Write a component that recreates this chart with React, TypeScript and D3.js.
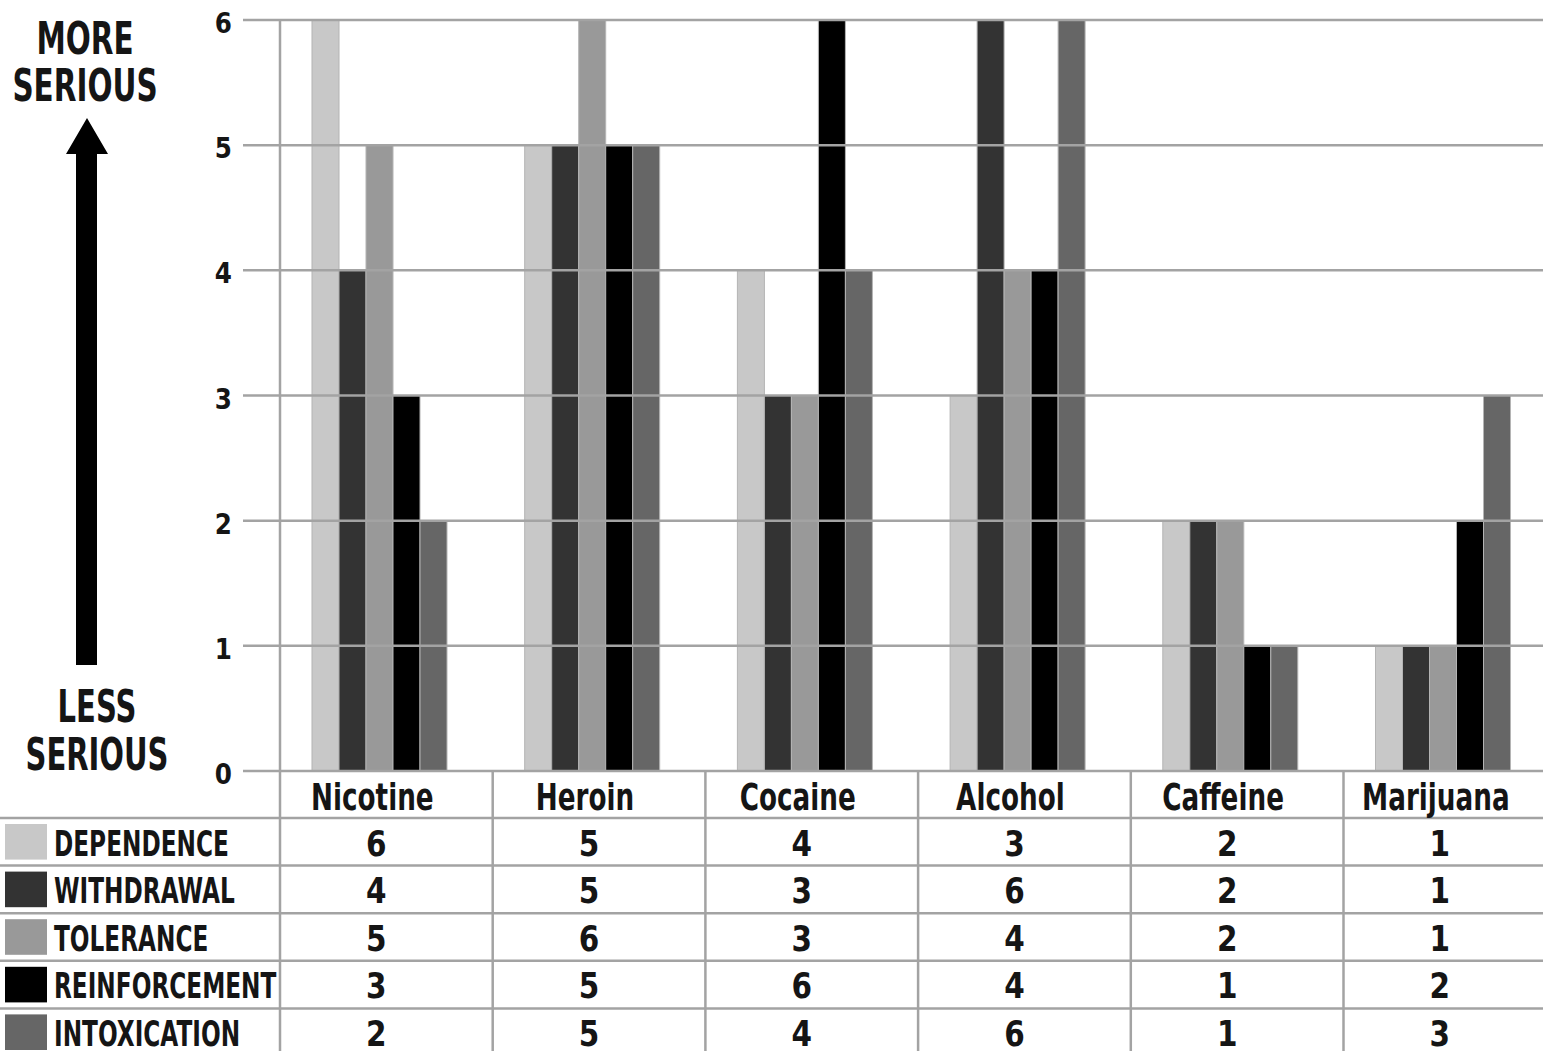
import React from "react";
import * as d3 from "d3";

const drugs = ["Nicotine", "Heroin", "Cocaine", "Alcohol", "Caffeine", "Marijuana"];
const seriesNames = ["DEPENDENCE", "WITHDRAWAL", "TOLERANCE", "REINFORCEMENT", "INTOXICATION"];
const seriesColors = ["#c8c8c8", "#333333", "#999999", "#000000", "#666666"];
const dependence = [6, 5, 4, 3, 2, 1];
const withdrawal = [4, 5, 3, 6, 2, 1];
const tolerance = [5, 6, 3, 4, 2, 1];
const reinforcement = [3, 5, 6, 4, 1, 2];
const intoxication = [2, 5, 4, 6, 1, 3];
const yTicks = [0, 1, 2, 3, 4, 5, 6];

const seriesValues = [dependence, withdrawal, tolerance, reinforcement, intoxication];

const FONT = "'DejaVu Sans', 'Open Sans', sans-serif";

function T(props: {
  x: number;
  y: number;
  sx?: number;
  size: number;
  anchor?: "start" | "middle" | "end";
  children: React.ReactNode;
}) {
  const { x, y, sx = 1, size, anchor = "start", children } = props;
  return (
    <text
      transform={`translate(${x},${y}) scale(${sx},1)`}
      textAnchor={anchor}
      fontSize={size}
      fontWeight="bold"
      fill="#151515"
    >
      {children}
    </text>
  );
}

export default function App() {
  const W = 1543;
  const H = 1051;
  const plotLeft = 280;
  const bandW = 212.7;
  const x = d3
    .scaleBand<string>()
    .domain(drugs)
    .range([plotLeft, plotLeft + bandW * drugs.length])
    .paddingInner(0)
    .paddingOuter(0);
  const y = d3.scaleLinear().domain([0, 6]).range([771, 20]);
  const inner = d3
    .scaleBand<string>()
    .domain(seriesNames)
    .range([32, 32 + 27 * 5])
    .padding(0);

  const headerTop = 771;
  const headerBottom = 818;
  const rowH = 47.6;
  const gridColor = "#a3a3a3";

  return (
    <svg
      width={W}
      height={H}
      style={{ position: "absolute", left: 0, top: 0, background: "#fff" }}
      fontFamily={FONT}
    >
      <rect x={0} y={0} width={W} height={H} fill="#fff" />
      {/* bars */}
      {drugs.map((d, i) => (
        <g key={d} transform={`translate(${x(d)},0)`}>
          {seriesNames.map((s, j) => {
            const v = seriesValues[j][i];
            return (
              <rect
                key={s}
                x={inner(s)}
                y={y(v)}
                width={inner.bandwidth()}
                height={y(0) - y(v)}
                fill={seriesColors[j]}
                stroke="#b4b4b4"
                strokeWidth={1}
              />
            );
          })}
        </g>
      ))}
      {/* gridlines over bars */}
      {yTicks.map((t) => (
        <g key={t}>
          <line x1={243} x2={W} y1={y(t)} y2={y(t)} stroke={gridColor} strokeWidth={2.5} />
          <T x={232} y={y(t) + 13} size={29} sx={0.85} anchor="end">
            {t}
          </T>
        </g>
      ))}
      {/* vertical frame line */}
      <line x1={plotLeft} x2={plotLeft} y1={y(6)} y2={H} stroke={gridColor} strokeWidth={2.5} />
      {/* table column lines */}
      {drugs.slice(1).map((d) => (
        <line
          key={d}
          x1={x(d)}
          x2={x(d)}
          y1={headerTop}
          y2={H}
          stroke={gridColor}
          strokeWidth={2.5}
        />
      ))}
      {/* table row lines */}
      {seriesNames.map((s, j) => (
        <line
          key={s}
          x1={0}
          x2={W}
          y1={headerBottom + j * rowH}
          y2={headerBottom + j * rowH}
          stroke={gridColor}
          strokeWidth={2.5}
        />
      ))}
      {/* header */}
      {drugs.map((d) => (
        <T key={d} x={(x(d) as number) + bandW / 2 - 14} y={headerBottom - 8} size={37} sx={0.71} anchor="middle">
          {d}
        </T>
      ))}
      {/* rows */}
      {seriesNames.map((s, j) => {
        const top = headerBottom + j * rowH;
        return (
          <g key={s}>
            <rect x={5} y={top + 6} width={42} height={rowH - 12} fill={seriesColors[j]} />
            <T x={54} y={top + rowH - 10} size={36} sx={0.645}>
              {s}
            </T>
            {drugs.map((d, i) => (
              <T
                key={d}
                x={(x(d) as number) + bandW / 2 - 10}
                y={top + rowH - 10}
                size={36}
                sx={0.82}
                anchor="middle"
              >
                {seriesValues[j][i]}
              </T>
            ))}
          </g>
        );
      })}
      {/* left annotation */}
      <T x={85} y={54} size={44} sx={0.67} anchor="middle">
        MORE
      </T>
      <T x={85} y={101} size={44} sx={0.67} anchor="middle">
        SERIOUS
      </T>
      <polygon points="87,118 108,154 97,154 97,665 76,665 76,154 66,154" fill="#000" />
      <T x={97} y={722} size={44} sx={0.66} anchor="middle">
        LESS
      </T>
      <T x={97} y={770} size={44} sx={0.66} anchor="middle">
        SERIOUS
      </T>
    </svg>
  );
}
